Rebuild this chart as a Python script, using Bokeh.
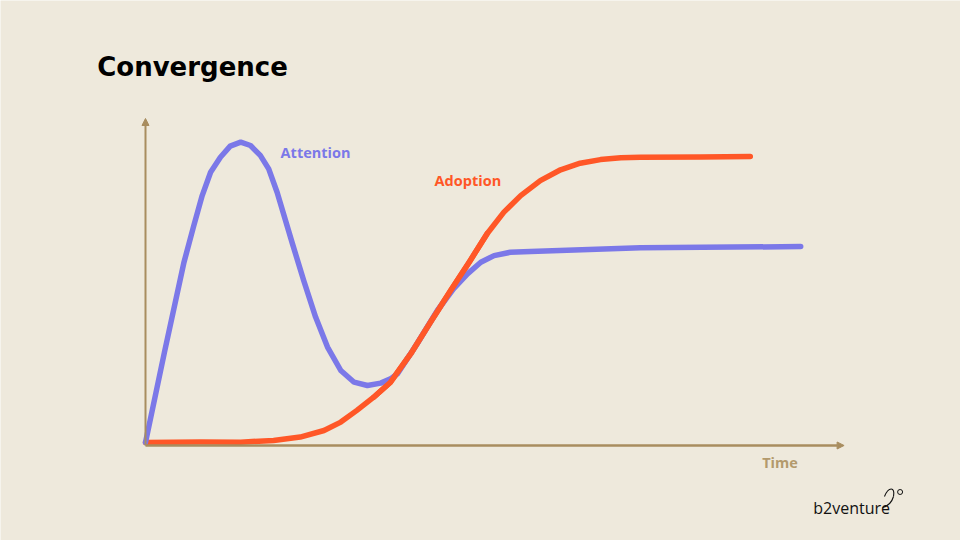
from bokeh.plotting import figure
from bokeh.models import Arrow, NormalHead, Range1d
from bokeh.embed import file_html
from bokeh.resources import INLINE
from bokeh.core.properties import value

# ---- data (time, level) ----
attention_t = [0, 2.7, 5.5, 6.9, 8.1, 9.3, 10.7, 12.1, 13.6, 15.0, 16.4, 17.6, 18.8,
               21.0, 22.6, 24.3, 26.0, 27.9, 29.8, 31.7, 33.6, 35.0, 36.0, 38.8,
               41.7, 44.0, 46.0, 47.9, 49.8, 52.1, 55.0, 70.7, 93.6]
attention_v = [1, 31.0, 61.1, 73.3, 83.3, 91.1, 96.1, 99.8, 101.1, 100.0, 96.7, 92.2, 84.4,
               67.2, 55.0, 42.8, 32.8, 25.0, 21.1, 20.0, 20.8, 22.2, 23.9, 33.9,
               45.0, 52.2, 57.2, 61.1, 63.3, 64.4, 64.7, 65.9, 66.3]

adoption_t = [0, 7.9, 13.6, 18.3, 22.1, 25.5, 27.9, 30.2, 32.6, 35.0, 37.9, 40.7,
              43.6, 46.4, 48.8, 51.2, 53.6, 56.4, 59.3, 62.1, 65.0, 67.9, 70.7, 79.3, 86.4]
adoption_v = [1, 1.2, 1.1, 1.7, 2.8, 5.0, 7.8, 11.7, 16.1, 21.1, 30.6, 41.1,
              51.7, 61.7, 70.6, 77.8, 83.3, 88.3, 91.9, 94.1, 95.3, 95.9, 96.1, 96.2, 96.3]

series_labels = ["Attention", "Adoption"]
axis_label = "Time"
title_text = "Convergence"
brand_text = "b2venture"

BG = "#EEE9DC"
AXIS = "#A88D5F"
ATT = "#7B78E8"
ADO = "#FF5727"
FONT = "Open Sans"

W, H = 960, 540
p = figure(width=W, height=H, output_backend="svg", toolbar_location=None,
           x_range=Range1d(-20.714, 116.429), y_range=Range1d(-31.667, 148.333),
           min_border=0, background_fill_color=BG, border_fill_color=BG,
           outline_line_color=None)
p.xaxis.visible = False
p.yaxis.visible = False
p.xgrid.visible = False
p.ygrid.visible = False

# axes as arrows
p.add_layout(Arrow(end=NormalHead(size=7, line_color=AXIS, fill_color=AXIS, line_width=1),
                   x_start=0, y_start=0, x_end=99.8, y_end=0,
                   line_color=AXIS, line_width=2.5))
p.add_layout(Arrow(end=NormalHead(size=7, line_color=AXIS, fill_color=AXIS, line_width=1),
                   x_start=0, y_start=0, x_end=0, y_end=109,
                   line_color=AXIS, line_width=2))

p.line(adoption_t, adoption_v, line_color=ADO, line_width=5.5,
       line_cap="round", line_join="round")
p.line(attention_t, attention_v, line_color=ATT, line_width=5.5,
       line_cap="round", line_join="round")
# adoption drawn over attention in the crossing region like the reference
p.line(adoption_t[8:15], adoption_v[8:15], line_color=ADO, line_width=5.5,
       line_cap="round", line_join="round")

p.text(x=[19.3], y=[97.7], text=[series_labels[0]], text_color=ATT,
       text_font=value(FONT), text_font_style="bold", text_font_size="14.5px",
       text_align="left", text_baseline="middle")
p.text(x=[41.3], y=[88.3], text=[series_labels[1]], text_color=ADO,
       text_font=value(FONT), text_font_style="bold", text_font_size="14.5px",
       text_align="left", text_baseline="middle")
p.text(x=[88.1], y=[-5.7], text=[axis_label], text_color="#B39A6C",
       text_font=value(FONT), text_font_style="bold", text_font_size="14.5px",
       text_align="left", text_baseline="middle")
p.text(x=[-6.9], y=[126.3], text=[title_text], text_color="#000000",
       text_font=value("DejaVu Sans"), text_font_style="bold", text_font_size="26px",
       text_align="left", text_baseline="middle")
p.text(x=[95.4], y=[-21.0], text=[brand_text], text_color="#111111",
       text_font=value(FONT), text_font_size="16px",
       text_align="left", text_baseline="middle")
# small logo mark
p.scatter(x=[107.8], y=[-15.5], size=5, marker="circle", fill_color=None,
          line_color="#111111", line_width=1)
p.bezier(x0=[105.57, 106.86], y0=[-17.0, -17.0], x1=[106.86, 105.29], y1=[-17.0, -20.67],
         cx0=[106.14, 106.57], cy0=[-13.67, -19.33], cx1=[107.14, 105.86], cy1=[-13.67, -20.33],
         line_color="#111111", line_width=1.1)

open("out.html", "w").write(file_html(p, INLINE))
